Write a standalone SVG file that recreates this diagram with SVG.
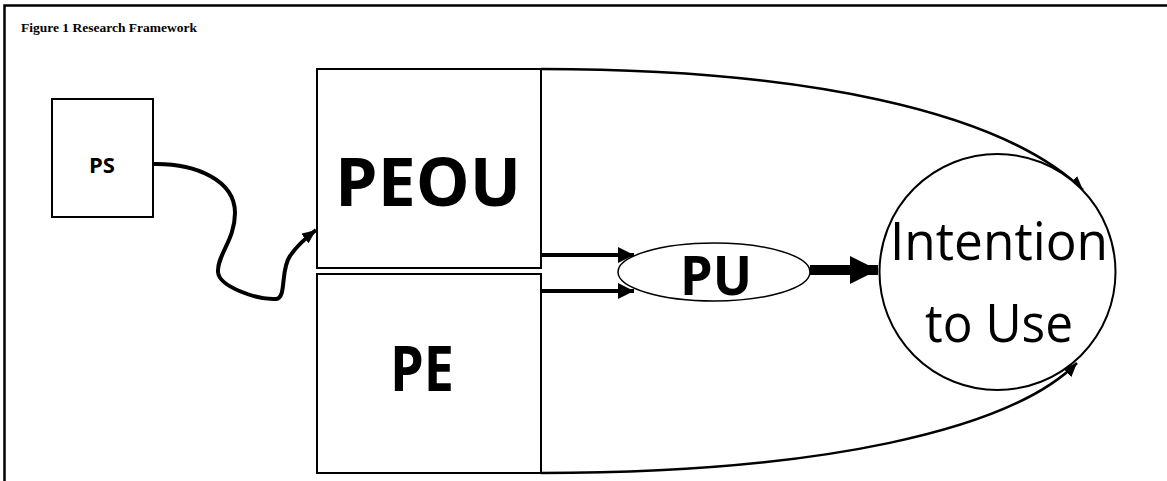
<svg xmlns="http://www.w3.org/2000/svg" width="1167" height="481" viewBox="0 0 1167 481">
<style>
.box{fill:#fff;stroke:#000;stroke-width:2}
.lbl{font-family:"Open Sans","Noto Sans",sans-serif;fill:#000;text-anchor:middle}
.b{font-weight:bold}
.conn{fill:none;stroke:#000}
</style>
<defs>
<marker id="ahS" viewBox="0 0 14 12" refX="14" refY="6" markerWidth="14" markerHeight="12" markerUnits="userSpaceOnUse" orient="auto"><path d="M0,0 L14,6 L0,12 Z" fill="#000"/></marker>
<marker id="ahM" viewBox="0 0 16 16" refX="16" refY="8" markerWidth="16" markerHeight="16" markerUnits="userSpaceOnUse" orient="auto"><path d="M0,0 L16,8 L0,16 Z" fill="#000"/></marker>
<marker id="ahL" viewBox="0 0 28 28" refX="28" refY="14" markerWidth="28" markerHeight="28" markerUnits="userSpaceOnUse" orient="auto"><path d="M0,0 L28,14 L0,28 Z" fill="#000"/></marker>
<marker id="ahT" viewBox="0 0 14 12" refX="14" refY="6" markerWidth="14" markerHeight="12" markerUnits="userSpaceOnUse" orient="auto"><path d="M0,0 L14,6 L0,12 Z" fill="#000"/></marker>
</defs>
<rect width="1167" height="481" fill="#fff"/>
<g id="frame">
<path d="M4.5,481 V5.5 H1167" fill="none" stroke="#000" stroke-width="2.5"/>
<text x="21" y="32" font-family="'Liberation Serif',serif" font-weight="bold" font-size="13.5">Figure 1 Research Framework</text>
</g>
<g id="connectors">
<path class="conn" stroke-width="4" d="M153,164 C195,163 235,180 235,213 C235,240 217,255 218,272 C219,287 258,300 276,299 C287,298 280,270 290,256 C296,247 303,240 316,230" marker-end="url(#ahS)"/>
<path class="conn" stroke-width="4" d="M541,255 H634" marker-end="url(#ahM)"/>
<path class="conn" stroke-width="4" d="M541,291 H634" marker-end="url(#ahM)"/>
<path class="conn" stroke-width="10" d="M810,270 H878" marker-end="url(#ahL)"/>
<path class="conn" stroke-width="2.5" d="M541,69 C800,69 1000,110 1083,190" marker-end="url(#ahT)"/>
<path class="conn" stroke-width="2.5" d="M541,473 C820,473 1010,430 1077,363" marker-end="url(#ahT)"/>
</g>
<g id="ps">
<rect class="box" x="52" y="99" width="101" height="118" stroke-width="1.5"/>
<text class="lbl b" x="102" y="173" font-size="22">PS</text>
</g>
<g id="peou">
<rect class="box" x="317" y="69" width="224" height="199"/>
<text class="lbl b" x="428" y="206" font-size="66" textLength="186" lengthAdjust="spacingAndGlyphs">PEOU</text>
</g>
<g id="pe">
<rect class="box" x="317" y="274" width="224" height="199"/>
<text class="lbl b" x="422" y="391" font-size="62" textLength="64" lengthAdjust="spacingAndGlyphs">PE</text>
</g>
<g id="pu">
<ellipse cx="714" cy="272" rx="96" ry="29" fill="#fff" stroke="#000" stroke-width="1.5"/>
<text class="lbl b" x="716" y="295" font-size="53" textLength="72" lengthAdjust="spacingAndGlyphs">PU</text>
</g>
<g id="intention">
<circle cx="997.5" cy="272" r="118" fill="#fff" stroke="#000" stroke-width="2"/>
<text class="lbl" x="999" y="260" font-size="53" textLength="218" lengthAdjust="spacingAndGlyphs">Intention</text>
<text class="lbl" x="999" y="342" font-size="53" textLength="148" lengthAdjust="spacingAndGlyphs">to Use</text>
</g>
</svg>
